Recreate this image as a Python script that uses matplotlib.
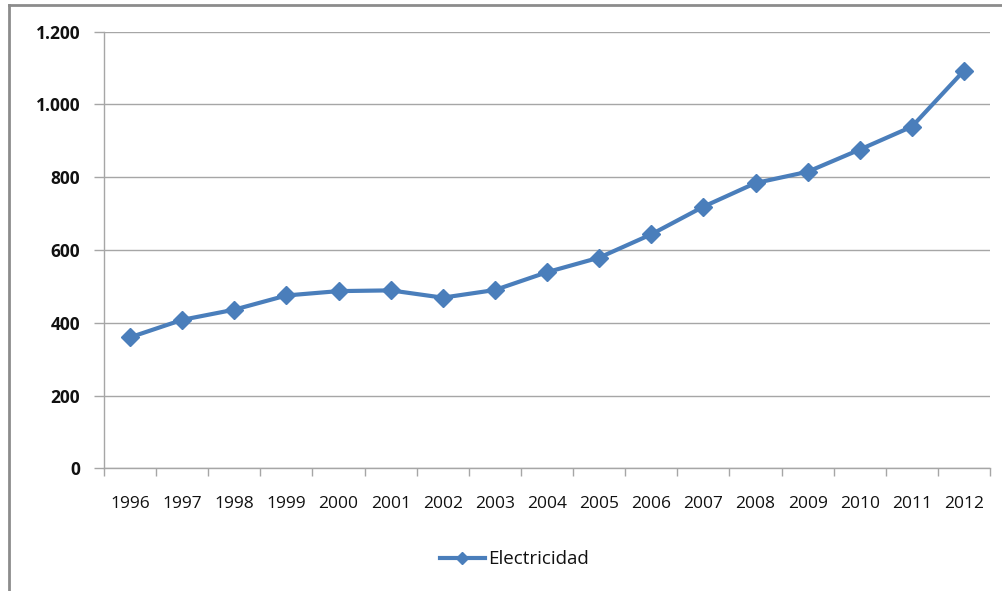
import matplotlib.pyplot as plt
from matplotlib.lines import Line2D
from matplotlib.ticker import FuncFormatter, FixedLocator

years = ["1996", "1997", "1998", "1999", "2000", "2001", "2002", "2003", "2004",
         "2005", "2006", "2007", "2008", "2009", "2010", "2011", "2012"]
electricidad = [360, 408, 436, 475, 487, 489, 469, 490, 539,
                579, 643, 719, 784, 815, 876, 939, 1093]
y_ticks = [0, 200, 400, 600, 800, 1000, 1200]

blue = "#4A7EBB"
grey = "#A6A6A6"

plt.rcParams["font.family"] = ["Open Sans", "DejaVu Sans"]

fig = plt.figure(figsize=(10.03, 5.91), dpi=100)
ax = fig.add_axes([0.1037, 0.2076, 0.8834, 0.7388])

x = list(range(len(years)))
ax.plot(x, electricidad, color=blue, lw=3, marker="D", ms=9,
        markeredgecolor=blue, label="Electricidad", solid_joinstyle="round")

ax.set_xlim(-0.5, len(years) - 0.5)
ax.set_ylim(0, 1200)
ax.set_yticks(y_ticks)
ax.yaxis.set_major_formatter(FuncFormatter(lambda v, p: f"{int(v):,}".replace(",", ".")))
ax.grid(axis="y", color=grey, lw=1)
ax.set_axisbelow(True)

ax.set_xticks(x)
ax.set_xticklabels(years)
ax.xaxis.set_minor_locator(FixedLocator([i - 0.5 for i in range(len(years) + 1)]))
ax.tick_params(axis="x", which="major", length=0, pad=20, labelsize=12.5, colors="#111111")
ax.tick_params(axis="x", which="minor", length=6, color=grey, width=1)
ax.tick_params(axis="y", length=7, color=grey, width=1, pad=10, labelsize=12.5,
               labelcolor="#111111")
for lbl in ax.get_yticklabels():
    lbl.set_fontweight("bold")

for side in ["top", "right"]:
    ax.spines[side].set_visible(False)
for side in ["left", "bottom"]:
    ax.spines[side].set_color(grey)
    ax.spines[side].set_linewidth(1)

leg = fig.legend(loc="center", bbox_to_anchor=(0.513, 0.054), frameon=False,
                 fontsize=13.5, handlelength=2.4, handletextpad=0.2, markerscale=0.7)
for t in leg.get_texts():
    t.set_color("#111111")

# outer frame (left and top edges)
fig.add_artist(Line2D([0.009, 0.009], [0, 0.991], transform=fig.transFigure,
                      color="#8C8C8C", lw=2))
fig.add_artist(Line2D([0.009, 1.0], [0.991, 0.991], transform=fig.transFigure,
                      color="#8C8C8C", lw=2))

fig.savefig("out.png", dpi=100)
